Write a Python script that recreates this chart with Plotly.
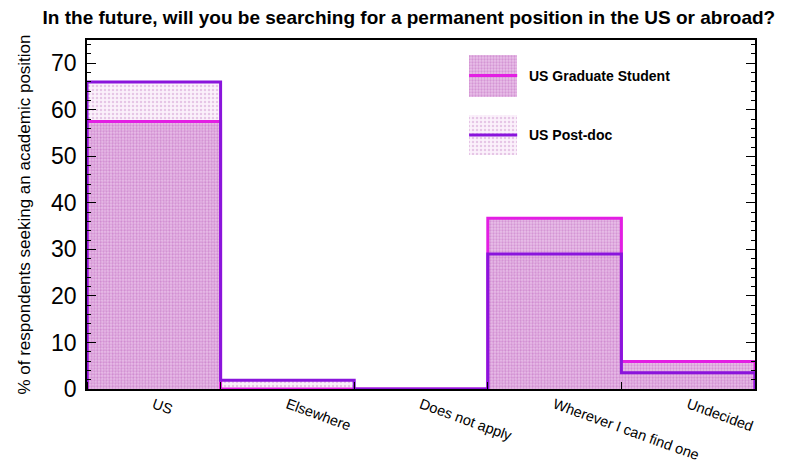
import plotly.graph_objects as go

categories = ["US", "Elsewhere", "Does not apply", "Wherever I can find one", "Undecided"]
grad_values = [57.5, 0, 0, 36.7, 5.9]
postdoc_values = [66.0, 1.9, 0, 29.0, 3.5]
series_names = ["US Graduate Student", "US Post-doc"]
y_ticks = [0, 10, 20, 30, 40, 50, 60, 70]

GRAD_LINE = "#e31ee3"
POST_LINE = "#8a14dc"
FONT = "Liberation Sans"

GRAD_BG, GRAD_FG, GRAD_SOL = "rgba(225,170,225,0.75)", "rgba(170,70,170,0.7)", 0.45
POST_BG, POST_FG, POST_SOL = "rgba(248,232,248,0.6)", "rgba(190,120,190,0.7)", 0.3

n = len(categories)
centers = [i + 0.5 for i in range(n)]
edges = list(range(n + 1))

fig = go.Figure()

def step_xy(vals):
    xs = [0] + edges + [n]
    ys = [0] + list(vals) + [vals[-1], 0]
    return xs, ys

fig.add_trace(go.Bar(
    x=centers, y=postdoc_values, width=1, name=series_names[1], showlegend=False,
    marker=dict(color=POST_BG, line=dict(width=0),
                pattern=dict(shape=".", fgcolor=POST_FG, size=4, solidity=POST_SOL, fillmode="overlay")),
    hoverinfo="skip"))
fig.add_trace(go.Bar(
    x=centers, y=grad_values, width=1, name=series_names[0], showlegend=False,
    marker=dict(color=GRAD_BG, line=dict(width=0),
                pattern=dict(shape=".", fgcolor=GRAD_FG, size=3, solidity=GRAD_SOL, fillmode="overlay")),
    hoverinfo="skip"))

gx, gy = step_xy(grad_values)
fig.add_trace(go.Scatter(x=gx, y=gy, mode="lines", line=dict(color=GRAD_LINE, width=3, shape="hv"),
                         showlegend=False, hoverinfo="skip"))
px_, py_ = step_xy(postdoc_values)
fig.add_trace(go.Scatter(x=px_, y=py_, mode="lines", line=dict(color=POST_LINE, width=3, shape="hv"),
                         showlegend=False, hoverinfo="skip"))

# Legend swatches on an overlay axis (0..1 fraction of the plot area)
sw = [(0.608, 0.838, 0.958, GRAD_LINE, GRAD_BG, GRAD_FG, GRAD_SOL, 3),
      (0.608, 0.671, 0.785, POST_LINE, POST_BG, POST_FG, POST_SOL, 4)]
for (xc, y0, y1, lc, bg, fg, sol, sz), name in zip(sw, series_names):
    fig.add_trace(go.Bar(x=[xc], y=[y1 - y0], base=[y0], width=0.072, xaxis="x2", yaxis="y2",
                         marker=dict(color=bg, line=dict(width=0),
                                     pattern=dict(shape=".", fgcolor=fg, size=sz, solidity=sol, fillmode="overlay")),
                         showlegend=False, hoverinfo="skip"))
    ym = (y0 + y1) / 2
    fig.add_trace(go.Scatter(x=[xc - 0.036, xc + 0.036], y=[ym, ym], mode="lines", xaxis="x2", yaxis="y2",
                             line=dict(color=lc, width=3), showlegend=False, hoverinfo="skip"))
    fig.add_annotation(x=xc + 0.051, y=ym, xref="x2", yref="y2", text="<b>" + name + "</b>",
                       showarrow=False, xanchor="left", yanchor="middle",
                       font=dict(family=FONT, size=14, color="black"))

fig.update_layout(
    width=786, height=458,
    margin=dict(l=79, r=39, t=32, b=77),
    paper_bgcolor="white", plot_bgcolor="white",
    barmode="overlay", bargap=0,
    title=dict(text="<b>In the future, will you be searching for a permanent position in the US or abroad?</b>",
               x=0.51, xref="container", xanchor="center", y=0.979, yanchor="middle",
               automargin=False,
               font=dict(family=FONT, size=19, color="black")),
    font=dict(family=FONT, color="black"),
    xaxis=dict(range=[0, n], tickvals=centers, ticktext=categories, tickangle=20,
               ticks="", showgrid=False, zeroline=False, automargin=False,
               showline=True, linecolor="black", linewidth=1.5, mirror=True,
               tickfont=dict(size=14.5, family=FONT), ticklabelstandoff=0,
               minor=dict(tickvals=edges, ticks="inside", ticklen=7, tickcolor="black", showgrid=False)),
    yaxis=dict(range=[0, 75], tickvals=y_ticks, ticks="inside", ticklen=9, tickcolor="black",
               showgrid=False, zeroline=False, showline=True, linecolor="black", linewidth=1.5, mirror="ticks",
               automargin=False, ticklabelstandoff=4,
               tickfont=dict(size=23, family=FONT),
               minor=dict(dtick=2, ticks="inside", ticklen=4, tickcolor="black", showgrid=False),
               title=dict(text="% of respondents seeking an academic position", font=dict(size=17, family=FONT), standoff=16)),
    xaxis2=dict(range=[0, 1], overlaying="x", visible=False, fixedrange=True),
    yaxis2=dict(range=[0, 1], overlaying="y", visible=False, fixedrange=True),
)

fig.write_html("out.html")
